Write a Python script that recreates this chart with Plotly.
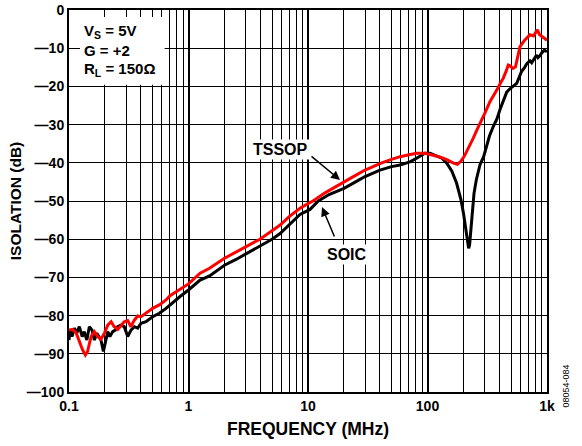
import plotly.graph_objects as go

# TSSOP (red) and SOIC (black) isolation vs frequency
tssop_freq = [0.100, 0.107, 0.115, 0.122, 0.130, 0.137, 0.143, 0.153, 0.163, 0.174,
              0.185, 0.198, 0.211, 0.225, 0.239, 0.256, 0.272, 0.290, 0.310, 0.330,
              0.352, 0.376, 0.401, 0.441, 0.501, 0.570, 0.649, 0.700, 0.786, 0.850,
              1.0, 1.25, 1.5, 2.0, 2.5, 3.0, 3.96, 5.0, 5.84, 7.0,
              8.57, 10, 11, 14, 20, 25, 30, 41.4, 50, 58.9,
              70, 81, 95, 110, 125, 145, 165, 178, 190, 203,
              213, 228, 241, 258, 276, 300, 333, 360, 381, 405,
              430, 455, 474, 490, 520, 545, 560, 594, 650, 720,
              770, 800, 830, 868, 930, 1000]
tssop_db = [-83.8, -83.6, -84.6, -86.8, -89.0, -90.3, -89.4, -85.5, -84.2, -85.5,
            -86.2, -84.6, -82.5, -81.6, -82.9, -83.6, -82.5, -81.6, -81.3, -82.9,
            -81.2, -80.1, -80.3, -79.4, -78.1, -77.2, -75.9, -74.8, -73.8, -73.0,
            -71.7, -68.9, -67.6, -65.0, -63.3, -62.0, -60.0, -57.8, -56.3, -54.0,
            -51.9, -50.7, -50.0, -47.8, -44.9, -43.3, -41.9, -40.0, -39.1, -38.4,
            -37.9, -37.5, -37.5, -37.9, -38.4, -39.2, -40.1, -40.4, -39.6, -38.3,
            -37.1, -35.3, -33.6, -31.5, -29.7, -27.2, -24.0, -22.3, -20.9, -19.3,
            -17.9, -16.0, -14.4, -14.6, -15.3, -14.9, -13.0, -9.6, -7.9, -6.5,
            -6.8, -6.0, -5.2, -6.5, -7.1, -7.9]

soic_freq = [0.100, 0.102, 0.106, 0.111, 0.116, 0.122, 0.129, 0.134, 0.141, 0.148,
             0.156, 0.163, 0.171, 0.177, 0.185, 0.194, 0.201, 0.211, 0.220, 0.232,
             0.244, 0.255, 0.272, 0.290, 0.310, 0.330, 0.352, 0.376, 0.401, 0.441,
             0.501, 0.570, 0.649, 0.700, 0.786, 0.850,
             1.0, 1.25, 1.5, 2.0, 2.5, 3.0, 4.0, 5.0, 5.84, 7.0,
             8.57, 10.4, 12.2, 15, 20, 25, 30, 40, 50, 59,
             67, 72, 81, 95, 105, 119, 132, 145, 160, 175,
             190, 200, 210, 217, 221, 225, 230, 236, 245, 256,
             275, 295, 310, 330, 355, 381, 405, 430, 460, 494,
             525, 558, 585, 612, 650, 680, 720, 745, 770, 800,
             818, 840, 862, 900, 950, 1000]
soic_db = [-86.4, -83.8, -85.5, -83.3, -84.6, -82.9, -85.5, -84.2, -86.4, -82.9,
           -83.8, -86.4, -84.6, -85.5, -86.4, -89.4, -87.3, -84.2, -85.5, -84.2,
           -83.8, -82.9, -82.5, -82.9, -85.5, -83.8, -82.9, -83.3, -82.0, -81.6,
           -80.3, -79.4, -78.1, -77.2, -76.0, -75.0,
           -73.3, -70.7, -69.6, -66.8, -65.3, -63.9, -61.7, -60.0, -58.5, -56.2,
           -53.5, -52.2, -50.0, -48.3, -46.7, -45.0, -43.6, -41.9, -41.0, -40.6,
           -40.0, -39.7, -38.8, -37.5, -37.5, -38.1, -38.8, -40.1, -42.2, -45.3,
           -49.5, -53.2, -57.5, -61.0, -62.4, -61.5, -57.5, -53.0, -48.0, -44.5,
           -40.5, -38.4, -36.0, -33.0, -30.5, -28.5, -26.0, -23.6, -21.5, -20.5,
           -19.8, -19.2, -17.6, -16.1, -15.0, -14.0, -13.3, -13.8, -13.1, -12.4,
           -11.8, -12.5, -12.2, -11.3, -10.5, -10.9]

x_ticks = [0.1, 1, 10, 100, 1000]
x_ticktext = ["0.1", "1", "10", "100", "1k"]
y_ticks = list(range(-100, 1, 10))
y_ticktext = ["0" if v == 0 else "\u2014" + str(-v) for v in y_ticks]
x_minor = [m * 10 ** e for e in range(-1, 3) for m in range(2, 10)]

FONT = "Arial, Liberation Sans, sans-serif"


def bold(size):
    return dict(size=size, color="black", family=FONT, weight="bold")


fig = go.Figure()
fig.add_trace(go.Scatter(x=soic_freq, y=soic_db, mode="lines", name="SOIC",
                         line=dict(color="black", width=3)))
fig.add_trace(go.Scatter(x=tssop_freq, y=tssop_db, mode="lines", name="TSSOP",
                         line=dict(color="#ff0000", width=3)))

# white box behind the conditions text
fig.add_shape(type="rect", xref="x domain", yref="y domain",
              x0=0.023, x1=0.2, y0=0.804, y1=0.982,
              fillcolor="white", line=dict(width=0), layer="above")
for txt, yy in [("V<sub>S</sub> = 5V", 0.945), ("G = +2", 0.893), ("R<sub>L</sub> = 150\u03a9", 0.843)]:
    fig.add_annotation(xref="x domain", yref="y domain", x=0.028, y=yy, text=txt,
                       showarrow=False, xanchor="left", yanchor="middle", font=bold(15))

# curve labels with arrows (log10 x coordinates)
fig.add_annotation(x=1.268, y=-44.5, ax=1.017, ay=-38.0, axref="x", ayref="y",
                   text="", showarrow=True, arrowhead=2, arrowsize=1.2,
                   arrowwidth=1.5, arrowcolor="black")
fig.add_annotation(x=0.766, y=-36.6, text="TSSOP", showarrow=False,
                   bgcolor="white", font=bold(16))
fig.add_annotation(x=1.117, y=-51.6, ax=1.226, ay=-59.7, axref="x", ayref="y",
                   text="", showarrow=True, arrowhead=2, arrowsize=1.2,
                   arrowwidth=1.5, arrowcolor="black")
fig.add_annotation(x=1.326, y=-63.9, text="SOIC", showarrow=False,
                   bgcolor="white", font=bold(16))

fig.add_annotation(xref="paper", yref="paper", x=1.054, y=-0.045, text="08054-084",
                   textangle=-90, showarrow=False,
                   font=dict(size=9, color="black", family=FONT))

fig.update_xaxes(type="log", range=[-1, 3], tickvals=x_ticks, ticktext=x_ticktext,
                 showgrid=True, gridcolor="black", gridwidth=2,
                 minor=dict(tickvals=x_minor, showgrid=True, gridcolor="black",
                            gridwidth=1.2, ticks=""),
                 showline=True, mirror=True, linecolor="black", linewidth=2,
                 ticks="", zeroline=False, automargin=False,
                 ticklabeloverflow="allow", tickfont=bold(14),
                 title=dict(text="FREQUENCY (MHz)", standoff=10, font=bold(17.5)))
fig.update_yaxes(range=[-100, 0], tickvals=y_ticks, ticktext=y_ticktext,
                 showgrid=True, gridcolor="black", gridwidth=1.2,
                 showline=True, mirror=True, linecolor="black", linewidth=2,
                 ticks="", zeroline=False, automargin=False,
                 ticklabeloverflow="allow", tickfont=bold(14),
                 title=dict(text="ISOLATION (dB)", standoff=1, font=bold(15.5)))

fig.update_layout(width=582, height=446, showlegend=False,
                  plot_bgcolor="white", paper_bgcolor="white",
                  margin=dict(l=69, r=35, t=10, b=54))

# drop the default 8 px page margin so the figure fills the window exactly
fig.write_html("out.html", config={"displayModeBar": False},
               post_script="document.body.style.margin='0';")
